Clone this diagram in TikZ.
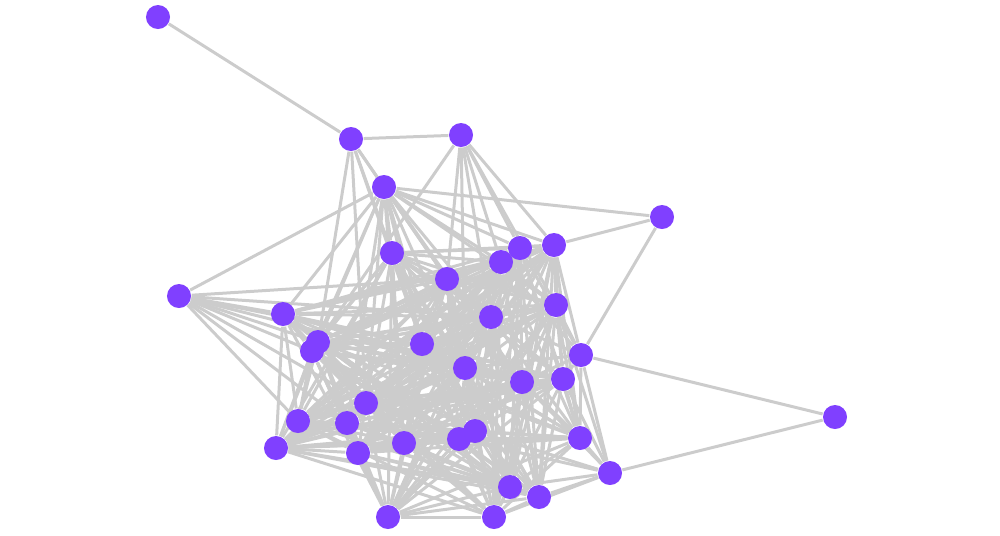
\documentclass[tikz,border=0pt]{standalone}
\usetikzlibrary{backgrounds}
\definecolor{vertexpurple}{RGB}{128,64,255}
\definecolor{edgegray}{RGB}{204,204,204}
\def\corelist{6,7,8,9,10,12,13,14,15,16,17,19,20,21,22,23,24,25,26,27,28,29,30,33,34,35,36}
\begin{document}
\begin{tikzpicture}[x=0.01cm,y=-0.01cm,
  vertex/.style={circle,fill=vertexpurple,inner sep=0pt,minimum size=0.24cm},
  edge/.style={draw=edgegray,line width=0.03cm}]
\useasboundingbox (0,0) rectangle (1000,535);
\foreach \n/\x/\y in {1/158/17,2/351/139,3/461/135,4/384/187,5/662/217,6/392/253,
  7/520/248,8/554/245,9/501/262,10/447/279,11/179/296,12/283/314,13/556/305,
  14/491/317,15/318/342,16/312/351,17/422/344,18/581/355,19/465/368,20/522/382,
  21/563/379,22/366/403,23/298/421,24/347/423,25/404/443,26/459/439,27/475/431,
  28/580/438,29/276/448,30/358/453,31/835/417,32/610/473,33/510/487,34/539/497,
  35/388/517,36/494/517}
  \node[vertex] (n\n) at (\x,\y) {};
\begin{scope}[on background layer]
\foreach \a/\b in {1/2,2/3,2/4,2/6,2/15,2/10,2/17,2/22,
  3/10,3/9,3/7,3/14,3/8,3/16,3/19,3/13,
  4/5,4/11,4/6,4/7,4/8,4/9,4/10,4/12,4/13,4/14,4/15,4/16,4/17,4/19,4/20,4/22,4/24,4/25,4/26,
  5/8,5/18,
  11/12,11/15,11/16,11/17,11/22,11/23,11/24,11/10,11/19,11/14,
  18/31,18/32,18/8,18/13,18/21,18/20,18/14,18/19,18/28,18/7,18/9,
  31/32,
  32/28,32/33,32/34,32/36,32/20,32/21,32/26,32/27,32/13}
  \draw[edge] (n\a) -- (n\b);
\foreach \i in \corelist {
  \foreach \j in \corelist {
    \pgfmathtruncatemacro\keep{mod(\i*7+\j*11,6)}
    \ifnum\i<\j \ifnum\keep>0 \draw[edge] (n\i) -- (n\j); \fi\fi
  }
}
\end{scope}
\end{tikzpicture}
\end{document}
